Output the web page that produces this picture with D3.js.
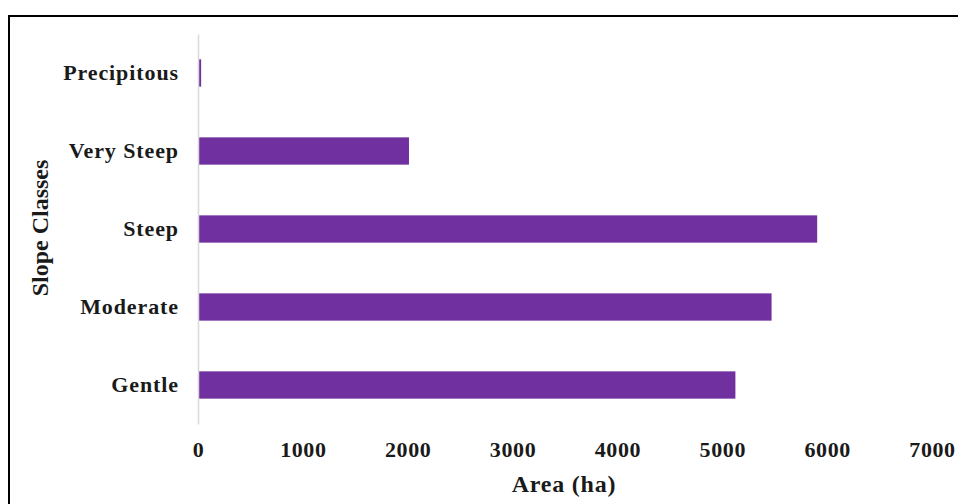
<!DOCTYPE html>
<html>
  <head>
    <meta charset="utf-8">
    <script type="text/javascript" src="https://cdn.jsdelivr.net/npm/d3@7/dist/d3.min.js"></script>
    <title>Slope Classes</title>
    <style>
      body { margin: 0; background: #fff; }
      text { font-family: "Liberation Serif", "Times New Roman", serif; font-weight: bold; fill: #1a1a1a; }
    </style>
  </head>
  <body>
    <div id="body"></div>
    <script type="text/javascript">
    var categories = ["Gentle", "Moderate", "Steep", "Very Steep", "Precipitous"];
    var areas = [5125, 5470, 5905, 2012, 30];
    var xTicks = [0, 1000, 2000, 3000, 4000, 5000, 6000, 7000];

    var w = 958, h = 504;
    var plotLeft = 198, plotRight = 932, plotTop = 34, plotBottom = 424;

    var svg = d3.select("#body")
        .append("svg")
        .attr("width", w)
        .attr("height", h);

    // outer frame
    svg.append("rect")
        .attr("x", 9).attr("y", 16)
        .attr("width", 960).attr("height", 500)
        .attr("fill", "none")
        .attr("stroke", "#000")
        .attr("stroke-width", 2);

    var x = d3.scaleLinear().domain([0, 7000]).range([plotLeft, plotRight]);
    var y = d3.scaleBand().domain(categories.slice().reverse()).range([plotTop, plotBottom]).paddingInner(0.65).paddingOuter(0.325);

    var data = categories.map(function(c, i) { return {name: c, value: areas[i]}; });

    svg.selectAll("rect.bar")
        .data(data)
        .enter().append("rect")
        .attr("class", "bar")
        .attr("x", x(0))
        .attr("y", function(d) { return y(d.name); })
        .attr("width", function(d) { return x(d.value) - x(0); })
        .attr("height", y.bandwidth())
        .attr("fill", "#7030A0");

    // vertical category axis
    var yAxis = svg.append("g")
        .attr("transform", "translate(" + plotLeft + ",0)")
        .call(d3.axisLeft(y).tickSize(0).tickPadding(19));
    yAxis.select(".domain").attr("stroke", "#d9d9d9").attr("stroke-width", 1.5);
    yAxis.selectAll("text")
        .style("font-size", "22px")
        .style("letter-spacing", "0.9px")
        .attr("fill", "#111");

    var xAxis = svg.append("g")
        .attr("transform", "translate(0," + plotBottom + ")")
        .call(d3.axisBottom(x).tickValues(xTicks).tickFormat(d3.format("d")).tickSize(0).tickPadding(17));
    xAxis.select(".domain").remove();
    xAxis.selectAll("text")
        .style("font-size", "22px")
        .style("letter-spacing", "0.6px")
        .attr("fill", "#111");

    svg.append("text")
        .attr("x", 564).attr("y", 492)
        .attr("text-anchor", "middle")
        .style("font-size", "24px")
        .style("letter-spacing", "0.8px")
        .text("Area (ha)");

    svg.append("text")
        .attr("transform", "translate(48,228) rotate(-90)")
        .attr("text-anchor", "middle")
        .style("font-size", "24px")
        .text("Slope Classes");
    </script>
  </body>
</html>
